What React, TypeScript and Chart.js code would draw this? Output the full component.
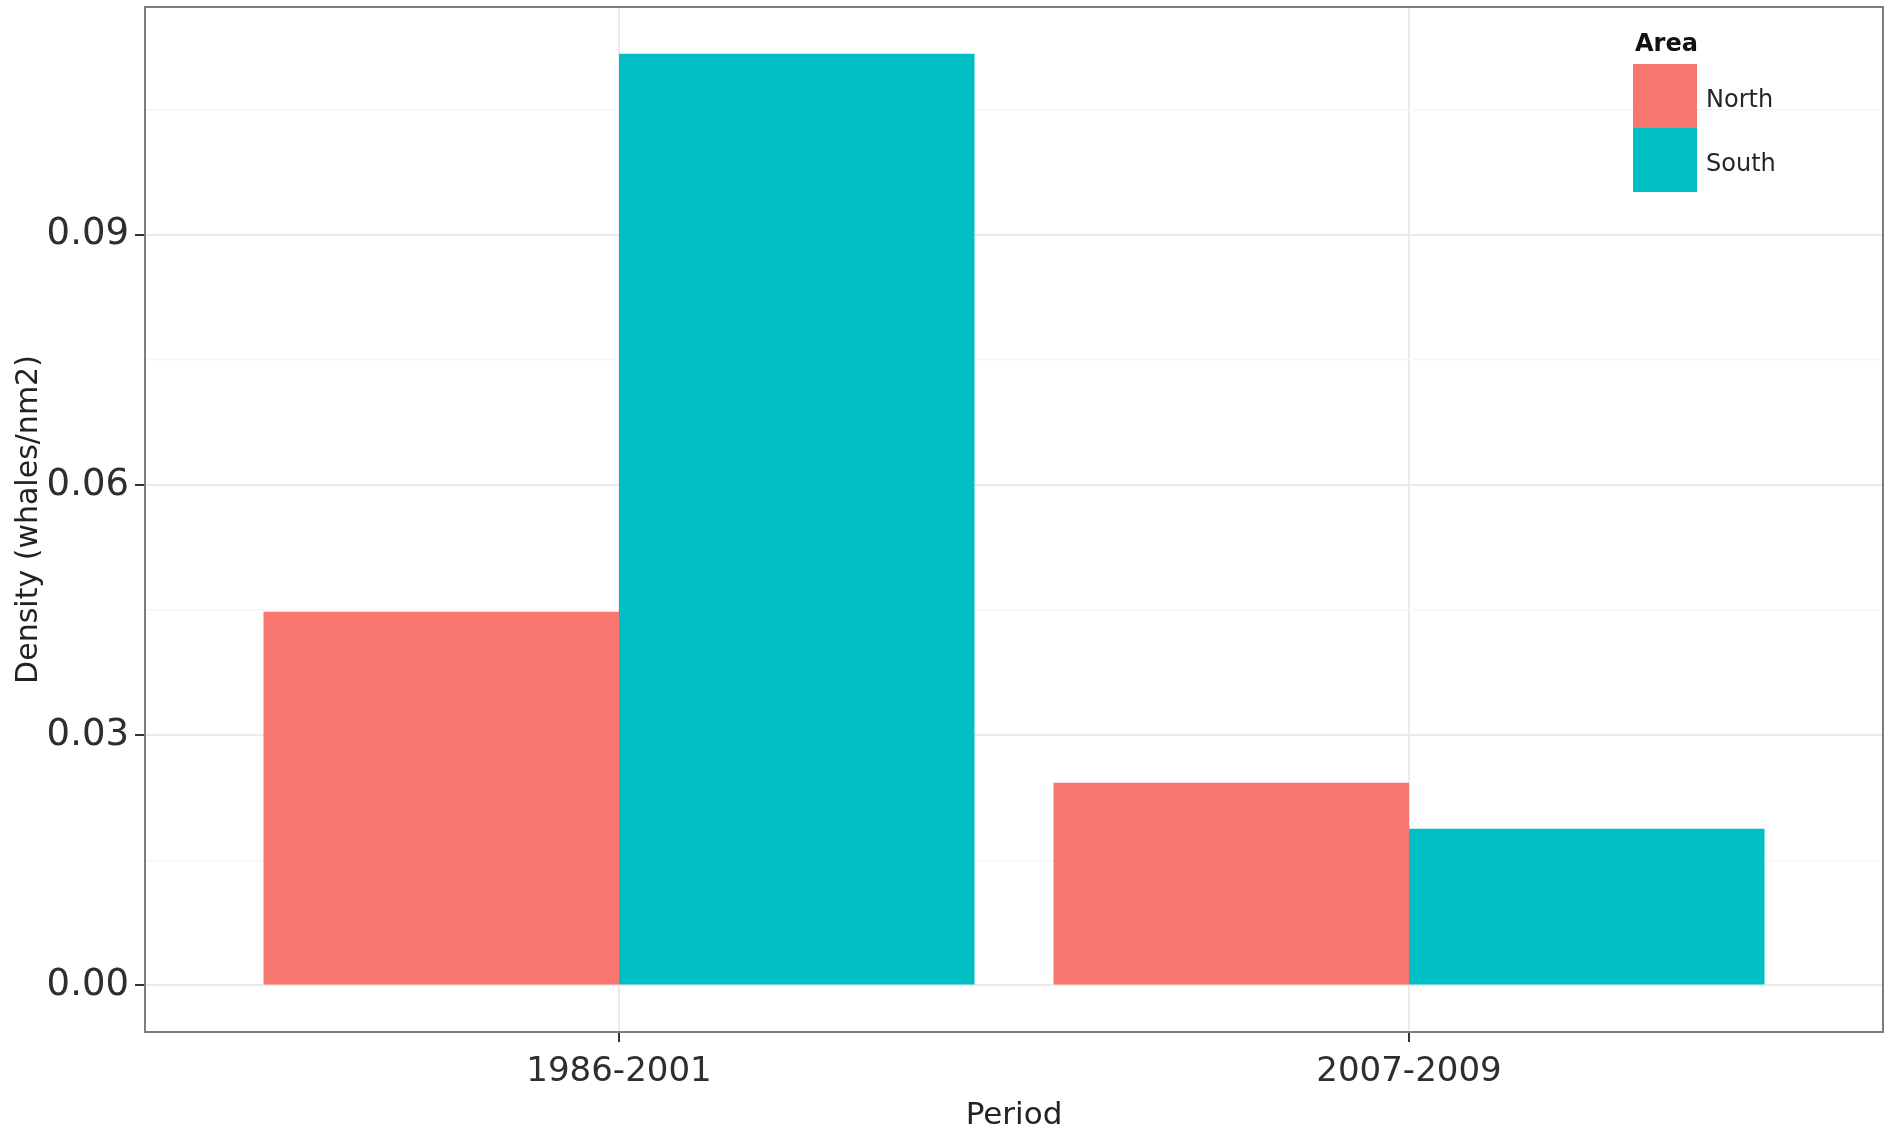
import React, { useEffect, useRef } from 'react';
import { Chart, registerables } from 'chart.js';

Chart.register(...registerables);

// ---- data ----
const categories = ['1986-2001', '2007-2009'];
const seriesNames = ['North', 'South'];
const northValues = [0.0448, 0.0243];
const southValues = [0.1117, 0.0188];
const seriesColors = ['#F8766D', '#00BFC4'];
const yTickValues = [0, 0.015, 0.03, 0.045, 0.06, 0.075, 0.09, 0.105];
const yMajorStep = 0.03;
const yMin = -0.00558;
const yMax = 0.1173;
const xTitle = 'Period';
const yTitle = 'Density (whales/nm2)';
const legendTitle = 'Area';

const W = 1890;
const H = 1141;
const FONT = '"DejaVu Sans", "Liberation Sans", sans-serif';

const isMajor = (v: number) => Math.abs(v / yMajorStep - Math.round(v / yMajorStep)) < 1e-6;

const panelPlugin = {
  id: 'panelAndLegend',
  afterDatasetsDraw(chart: any) {
    const { ctx, chartArea: a } = chart;
    ctx.save();
    // panel border
    ctx.strokeStyle = '#7d7d7d';
    ctx.lineWidth = 2;
    ctx.strokeRect(a.left, a.top, a.right - a.left, a.bottom - a.top);

    // legend inside panel (top-right)
    const box = 64;
    const bx = a.right - 250;
    const by = a.top + 57;
    ctx.fillStyle = '#111';
    ctx.font = `bold 24px ${FONT}`;
    ctx.textAlign = 'left';
    ctx.textBaseline = 'alphabetic';
    ctx.fillText(legendTitle, bx + 2, a.top + 44);
    chart.data.datasets.forEach((ds: any, i: number) => {
      ctx.fillStyle = ds.backgroundColor;
      ctx.fillRect(bx, by + i * box, box, box);
      ctx.fillStyle = '#262626';
      ctx.font = `24px ${FONT}`;
      ctx.textBaseline = 'middle';
      ctx.fillText(ds.label, bx + box + 9, by + i * box + box / 2 + 5);
    });
    ctx.restore();
  },
};

export default function App() {
  const ref = useRef<HTMLCanvasElement | null>(null);

  useEffect(() => {
    if (!ref.current) return;
    Chart.defaults.font.family = FONT;
    const chart = new Chart(ref.current, {
      type: 'bar',
      data: {
        datasets: [
          {
            label: seriesNames[0],
            data: northValues.map((v, i) => ({ x: i + 1, y: v })),
            backgroundColor: seriesColors[0],
            borderWidth: 0,
          },
          {
            label: seriesNames[1],
            data: southValues.map((v, i) => ({ x: i + 1, y: v })),
            backgroundColor: seriesColors[1],
            borderWidth: 0,
          },
        ],
      },
      options: {
        responsive: false,
        animation: false,
        devicePixelRatio: 1,
        layout: { padding: { top: 7, right: 7, left: 0, bottom: 0 } },
        datasets: {
          bar: { categoryPercentage: 0.9, barPercentage: 1.0 },
        },
        plugins: {
          legend: { display: false },
          tooltip: { enabled: false },
        },
        scales: {
          x: {
            type: 'linear',
            min: 0.4,
            max: 2.6,
            offset: false,
            afterBuildTicks: (s: any) => {
              s.ticks = categories.map((_, i) => ({ value: i + 1 }));
            },
            afterFit: (s: any) => {
              s.height = 109;
              s.paddingLeft = 0;
              s.paddingRight = 0;
            },
            ticks: {
              autoSkip: false,
              maxRotation: 0,
              padding: 10,
              color: '#2e2e2e',
              font: { size: 34 },
              callback: (v: any) => categories[Math.round(Number(v)) - 1] ?? '',
            },
            grid: {
              offset: false,
              color: '#ebebeb',
              lineWidth: 2,
              tickColor: '#333',
              tickLength: 10,
              tickWidth: 2,
            },
            border: { display: false },
            title: {
              display: true,
              text: xTitle,
              color: '#222',
              font: { size: 31 },
              padding: { top: 0, bottom: 6 },
            },
          },
          y: {
            type: 'linear',
            min: yMin,
            max: yMax,
            afterBuildTicks: (s: any) => {
              s.ticks = yTickValues.map((v) => ({ value: v }));
            },
            afterFit: (s: any) => {
              s.width = 145;
              s.paddingTop = 0;
              s.paddingBottom = 0;
            },
            ticks: {
              autoSkip: false,
              padding: 6,
              color: '#2e2e2e',
              font: { size: 37 },
              callback: (v: any) => (isMajor(Number(v)) ? Number(v).toFixed(2) : ''),
            },
            grid: {
              color: (c: any) => (c.tick && isMajor(c.tick.value) ? '#ebebeb' : '#f6f6f6'),
              lineWidth: (c: any) => (c.tick && isMajor(c.tick.value) ? 2 : 1.5),
              tickColor: (c: any) => (c.tick && isMajor(c.tick.value) ? '#333' : 'rgba(0,0,0,0)'),
              tickLength: 10,
              tickWidth: 2,
            },
            border: { display: false },
            title: {
              display: true,
              text: yTitle,
              color: '#222',
              font: { size: 30 },
              padding: { top: 11, bottom: 0 },
            },
          },
        },
      } as any,
      plugins: [panelPlugin],
    });
    return () => chart.destroy();
  }, []);

  return (
    <div style={{ position: 'absolute', left: 0, top: 0, width: W, height: H, background: '#fff' }}>
      <canvas ref={ref} width={W} height={H} style={{ width: W, height: H, display: 'block' }} />
    </div>
  );
}
